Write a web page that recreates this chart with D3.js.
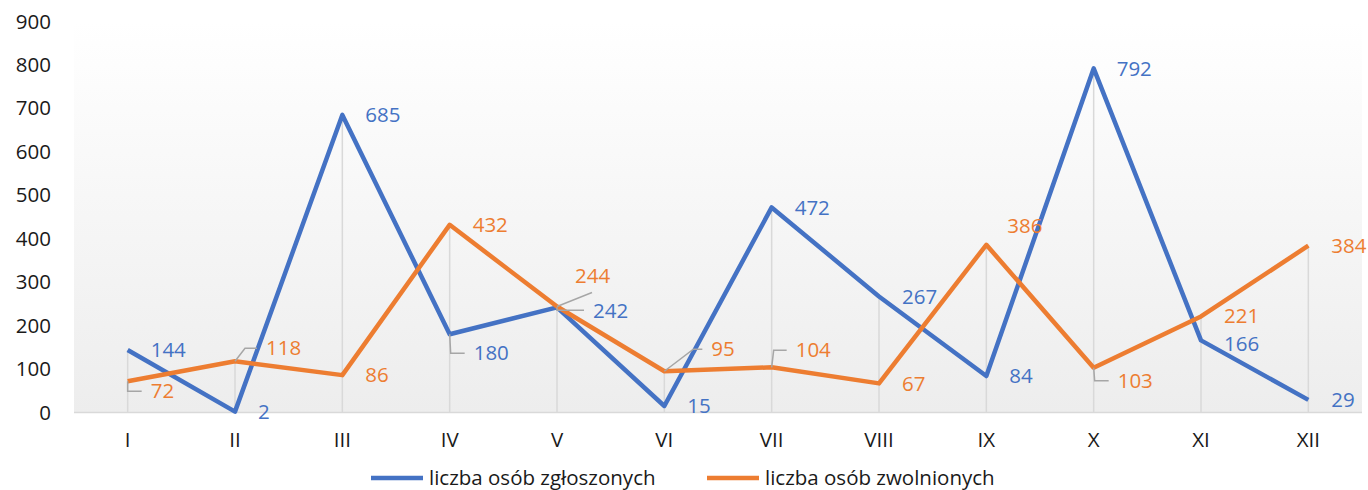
<!DOCTYPE html>
<html>
<head>
<meta charset="utf-8">
<script src="https://cdn.jsdelivr.net/npm/d3@7"></script>
<style>
  body { margin: 0; background: #fff; }
  svg text { font-family: "Open Sans", sans-serif; }
</style>
</head>
<body>
<svg id="chart" width="1368" height="490"></svg>
<script>
// months and the two series
var months = ["I", "II", "III", "IV", "V", "VI", "VII", "VIII", "IX", "X", "XI", "XII"];
var zgloszonych = [144, 2, 685, 180, 242, 15, 472, 267, 84, 792, 166, 29];
var zwolnionych = [72, 118, 86, 432, 244, 95, 104, 67, 386, 103, 221, 384];
var yTicks = [0, 100, 200, 300, 400, 500, 600, 700, 800, 900];
var seriesNames = ["liczba osób zgłoszonych", "liczba osób zwolnionych"];
var colors = ["#4472c4", "#ed7d31"];

// label placement tweaks (pixels from the point), like excel moved labels
var labelMoves = [
  { 3: {dx: 24, dy: 19, knee: 1}, 4: {dx: 36, dy: 3, knee: 0}, 10: {dx: 23, dy: 3} },
  { 0: {dx: 23, dy: 10, knee: 0}, 1: {dx: 31, dy: -13, knee: 10},
    4: {dx: 18, dy: -31, end: [17, 17]}, 5: {dx: 47, dy: -22, knee: 29},
    6: {dx: 24, dy: -17, knee: 2}, 8: {dx: 21, dy: -19}, 9: {dx: 24, dy: 13, knee: 1},
    10: {dx: 23, dy: -1} }
];

var svg = d3.select("#chart");
// note: "top" is taken by window.top, so plotTop
var plotLeft = 74, plotRight = 1362, plotTop = 21.5, plotBottom = 412.5;

var x = d3.scaleBand().domain(months).range([plotLeft, plotRight]);
var y = d3.scaleLinear().domain([0, 900]).range([plotBottom, plotTop]);
var cx = function(m){ return x(m) + x.bandwidth() / 2; };

// background gradient
var defs = svg.append("defs");
var grad = defs.append("linearGradient").attr("id", "bg")
  .attr("x1", 0).attr("y1", 0).attr("x2", 0).attr("y2", 1);
grad.append("stop").attr("offset", "0%").attr("stop-color", "#ffffff");
grad.append("stop").attr("offset", "100%").attr("stop-color", "#ededed");

svg.append("rect")
  .attr("x", plotLeft).attr("y", plotTop)
  .attr("width", plotRight - plotLeft).attr("height", plotBottom - plotTop)
  .attr("fill", "url(#bg)");

// drop lines
svg.append("g").selectAll("line")
  .data(months)
  .enter().append("line")
  .attr("x1", function(d){ return cx(d); })
  .attr("x2", function(d){ return cx(d); })
  .attr("y1", y(0))
  .attr("y2", function(d, i){ return y(Math.max(zgloszonych[i], zwolnionych[i])); })
  .attr("stroke", "#d9d9d9")
  .attr("stroke-width", 1.5);

// baseline
svg.append("line")
  .attr("x1", plotLeft).attr("x2", plotRight)
  .attr("y1", y(0)).attr("y2", y(0))
  .attr("stroke", "#d9d9d9").attr("stroke-width", 1.5);

// y axis
var yAxis = svg.append("g")
  .attr("transform", "translate(51,0)")
  .call(d3.axisLeft(y).tickValues(yTicks).tickSize(0).tickPadding(0));
yAxis.select(".domain").remove();
yAxis.selectAll("text")
  .attr("font-size", 20.5).attr("fill", "#1a1a1a")
  .attr("font-family", "'Open Sans', sans-serif");

// x axis
var xAxis = svg.append("g")
  .attr("transform", "translate(0," + (plotBottom + 20) + ")")
  .call(d3.axisBottom(x).tickSize(0).tickPadding(0));
xAxis.select(".domain").remove();
xAxis.selectAll("text")
  .attr("font-size", 20.5).attr("fill", "#1a1a1a")
  .attr("font-family", "'Open Sans', sans-serif");

// lines
var allSeries = [zgloszonych, zwolnionych];
var line = d3.line()
  .x(function(d, i){ return cx(months[i]); })
  .y(function(d){ return y(d); });

allSeries.forEach(function(vals, s){
  svg.append("path")
    .datum(vals)
    .attr("d", line)
    .attr("fill", "none")
    .attr("stroke", colors[s])
    .attr("stroke-width", 4.5)
    .attr("stroke-linejoin", "round");
});

// labels and leader lines
allSeries.forEach(function(vals, s){
  var g = svg.append("g");
  for (var i = 0; i < vals.length; i++) {
    var px = cx(months[i]), py = y(vals[i]);
    var mv = labelMoves[s][i] || {dx: 23, dy: 0};
    var lx = px + mv.dx, ly = py + mv.dy;
    if (mv.knee !== undefined) {
      g.append("polyline")
        .attr("points", [[px, py], [px + mv.knee, ly], [lx - 9, ly]].join(" "))
        .attr("fill", "none").attr("stroke", "#a6a6a6").attr("stroke-width", 1.5);
    }
    if (mv.end) {
      g.append("line")
        .attr("x1", px).attr("y1", py)
        .attr("x2", lx + mv.end[0]).attr("y2", ly + mv.end[1])
        .attr("stroke", "#a6a6a6").attr("stroke-width", 1.5);
    }
    g.append("text")
      .attr("x", lx).attr("y", ly)
      .attr("dy", "0.35em")
      .attr("font-size", 20.5)
      .attr("fill", colors[s])
      .text(vals[i]);
  }
});

// legend
var legend = svg.append("g");
seriesNames.forEach(function(name, s){
  var gx = s == 0 ? 371 : 707;
  legend.append("line")
    .attr("x1", gx).attr("x2", gx + 52)
    .attr("y1", 478).attr("y2", 478)
    .attr("stroke", colors[s]).attr("stroke-width", 4.5);
  legend.append("text")
    .attr("x", gx + 58).attr("y", 478).attr("dy", "0.35em")
    .attr("font-size", 20.5).attr("fill", "#1a1a1a")
    .text(name);
});
</script>
</body>
</html>
